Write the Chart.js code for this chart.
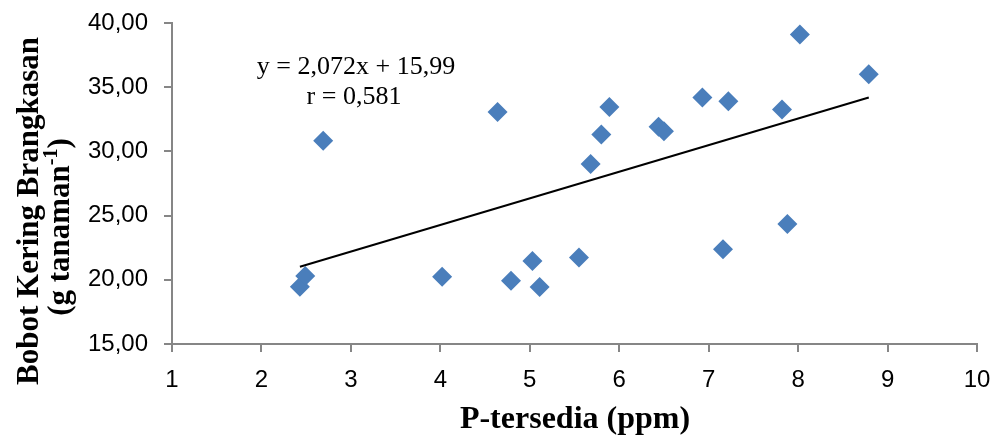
<!DOCTYPE html>
<html>
<head>
<meta charset="utf-8">
<script src="https://cdn.jsdelivr.net/npm/chart.js@4.4.1/dist/chart.umd.min.js"></script>
<style>
  html, body { margin: 0; padding: 0; background: #fff; }
  #wrap { width: 994px; height: 439px; position: relative; }
</style>
</head>
<body>
<div id="wrap"><canvas id="chart"></canvas></div>
<script>
// P-tersedia (ppm) vs bobot kering brangkasan
const pTersedia = [2.43, 2.49, 2.69, 4.02, 4.64, 4.79, 5.03, 5.11, 5.55, 5.68, 5.80,
  5.89, 6.44, 6.50, 6.93, 7.22, 7.16, 7.82, 7.88, 8.02, 8.79];
const bobotKering = [19.46, 20.29, 30.82, 20.24, 33.07, 19.93, 21.46, 19.43, 21.73, 29.01, 31.32,
  33.46, 31.92, 31.57, 34.20, 33.91, 22.37, 33.26, 24.34, 39.10, 36.01];

// linear trendline end points
const trendX = [2.43, 8.79];
const trendY = [21.02, 34.20];

const xTicks = [1, 2, 3, 4, 5, 6, 7, 8, 9, 10];
const yTicks = [15, 20, 25, 30, 35, 40];

const equationText = 'y = 2,072x + 15,99';
const rText = 'r = 0,581';
const xTitle = 'P-tersedia (ppm)';
const yTitle1 = 'Bobot Kering Brangkasan';
const yTitle2 = '(g tanaman';
const yTitleSup = '-1';
const yTitle3 = ')';

const axisColor = '#868686';
const markerColor = '#4A7EBB';

const textPlugin = {
  id: 'texts',
  afterDraw(chart) {
    const ctx = chart.ctx;
    ctx.save();
    ctx.fillStyle = '#000';

    // equation box
    ctx.font = '26px "Liberation Serif", serif';
    ctx.textAlign = 'center';
    ctx.textBaseline = 'alphabetic';
    ctx.fillText(equationText, 356, 74);
    ctx.fillText(rText, 354, 104);

    // x axis title
    ctx.font = 'bold 32px "Liberation Serif", serif';
    ctx.fillText(xTitle, 575, 428);

    // y axis title, rotated
    ctx.rotate(-Math.PI / 2);
    const big = 'bold 31px "Liberation Serif", serif';
    const small = 'bold 20px "Liberation Serif", serif';
    ctx.font = big;
    ctx.textAlign = 'center';
    ctx.fillText(yTitle1, -211, 38);

    const w1 = ctx.measureText(yTitle2).width;
    const w3 = ctx.measureText(yTitle3).width;
    ctx.font = small;
    const w2 = ctx.measureText(yTitleSup).width;
    const total = w1 + w2 + w3;
    const start = -227 - total / 2;
    ctx.textAlign = 'left';
    ctx.font = big;
    ctx.fillText(yTitle2, start, 69);
    ctx.font = small;
    ctx.fillText(yTitleSup, start + w1, 57);
    ctx.font = big;
    ctx.fillText(yTitle3, start + w1 + w2, 69);
    ctx.restore();
  }
};

const ctx = document.getElementById('chart').getContext('2d');
new Chart(ctx, {
  type: 'scatter',
  data: {
    datasets: [
      {
        label: 'Trendline',
        type: 'line',
        data: trendX.map((x, i) => ({ x, y: trendY[i] })),
        borderColor: '#000',
        borderWidth: 2,
        pointRadius: 0,
        fill: false,
        order: 0
      },
      {
        label: 'Data',
        data: pTersedia.map((x, i) => ({ x, y: bobotKering[i] })),
        pointStyle: 'rectRot',
        pointRadius: 10,
        pointHoverRadius: 10,
        backgroundColor: markerColor,
        borderColor: markerColor,
        borderWidth: 0,
        order: 1
      }
    ]
  },
  options: {
    responsive: true,
    maintainAspectRatio: false,
    animation: false,
    layout: { padding: { top: 23, right: 17, left: 0, bottom: 0 } },
    plugins: {
      legend: { display: false },
      tooltip: { enabled: false }
    },
    scales: {
      x: {
        type: 'linear',
        min: 1,
        max: 10,
        afterBuildTicks: (scale) => { scale.ticks = xTicks.map(v => ({ value: v })); },
        afterFit: (scale) => {
          scale.height = 95;
          scale.paddingLeft = 0;
          scale.paddingRight = 0;
        },
        grid: { drawOnChartArea: false, drawTicks: true, tickLength: 8, color: axisColor, lineWidth: 2 },
        border: { color: axisColor, width: 2 },
        ticks: {
          padding: 14,
          color: '#000',
          maxRotation: 0,
          font: { family: '"Liberation Sans", sans-serif', size: 24 },
          callback: (v) => String(v)
        }
      },
      y: {
        type: 'linear',
        min: 15,
        max: 40,
        afterBuildTicks: (scale) => { scale.ticks = yTicks.map(v => ({ value: v })); },
        afterFit: (scale) => {
          scale.width = 172;
          scale.paddingTop = 0;
          scale.paddingBottom = 0;
        },
        grid: { drawOnChartArea: false, drawTicks: true, tickLength: 8, color: axisColor, lineWidth: 2 },
        border: { color: axisColor, width: 2 },
        ticks: {
          padding: 16,
          color: '#000',
          font: { family: '"Liberation Sans", sans-serif', size: 24 },
          callback: (v) => v.toFixed(2).replace('.', ',')
        }
      }
    }
  },
  plugins: [textPlugin]
});
</script>
</body>
</html>
